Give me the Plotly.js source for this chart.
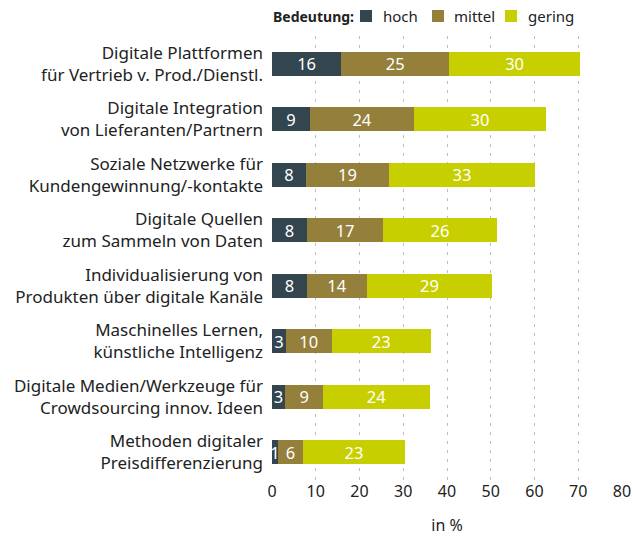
<!DOCTYPE html>
<html><head><meta charset="utf-8">
<script src="https://cdn.plot.ly/plotly-3.0.1.min.js"></script>
<style>body{margin:0;background:#fff}#c{width:633px;height:536px}</style>
</head><body><div id="c"></div>
<script>
const categories = [
  "Digitale Plattformen<br>für Vertrieb v. Prod./Dienstl.",
  "Digitale Integration<br>von Lieferanten/Partnern",
  "Soziale Netzwerke für<br>Kundengewinnung/-kontakte",
  "Digitale Quellen<br>zum Sammeln von Daten",
  "Individualisierung von<br>Produkten über digitale Kanäle",
  "Maschinelles Lernen,<br>künstliche Intelligenz",
  "Digitale Medien/Werkzeuge für<br>Crowdsourcing innov. Ideen",
  "Methoden digitaler<br>Preisdifferenzierung"
];
const hoch   = [15.8, 8.7, 7.8, 8.0, 8.0, 3.2, 3.0, 1.3];
const mittel = [24.7, 23.8, 18.9, 17.4, 13.7, 10.4, 8.7, 5.8];
const gering = [29.9, 30.1, 33.4, 26.0, 28.6, 22.7, 24.4, 23.3];
const seriesNames = ["hoch", "mittel", "gering"];
const colors = ["#33454e", "#947f3b", "#c8cf00"];
const xTicks = [0,10,20,30,40,50,60,70,80];
const legendTitle = "Bedeutung:";

const font = "'Noto Sans', 'Open Sans', sans-serif";
const txt = "#222222";
const traces = [hoch, mittel, gering].map((vals, i) => ({
  type: "bar", orientation: "h", name: seriesNames[i],
  y: categories, x: vals,
  text: vals.map(v => String(Math.round(v))),
  textposition: "inside", insidetextanchor: "middle", textangle: 0,
  textfont: {color: "#ffffff", size: 16.5, family: font},
  marker: {color: colors[i], line: {width: 0}},
  width: 0.43, hoverinfo: "skip", cliponaxis: false, showlegend: false
}));

// custom legend (paper coords)
const W = 350, H = 444, L = 272, T = 36;
const px = p => (p - L) / W;
const py = p => (T + H - p) / H;
const legX = [[360, 382], [432, 453], [505, 527]];
const shapes = legX.map((lx, i) => ({
  type: "rect", xref: "paper", yref: "paper",
  x0: px(lx[0]), x1: px(lx[0] + 12), y0: py(22), y1: py(10),
  fillcolor: colors[i], line: {width: 0}
}));
const annotations = [{
  xref: "paper", yref: "paper", x: px(271), y: py(16), xanchor: "left", yanchor: "middle",
  text: "<b>" + legendTitle + "</b>", showarrow: false, font: {size: 14, color: txt, family: font}
}].concat(legX.map((lx, i) => ({
  xref: "paper", yref: "paper", x: px(lx[1] - 1), y: py(16), xanchor: "left", yanchor: "middle",
  text: seriesNames[i], showarrow: false, font: {size: 15, color: txt, family: font}
})));

const layout = {
  width: 633, height: 536,
  margin: {l: L, r: 633 - L - W, t: T, b: 536 - T - H},
  barmode: "stack",
  paper_bgcolor: "#fff", plot_bgcolor: "#fff",
  font: {family: font, size: 16, color: txt},
  uniformtext: {mode: "show", minsize: 16},
  showlegend: false,
  shapes: shapes, annotations: annotations,
  xaxis: {
    range: [0, 80], tickvals: xTicks, ticktext: xTicks.map(String),
    showgrid: true, gridcolor: "#bdbdbd", griddash: "3px,6px", gridwidth: 1,
    zeroline: false, showline: false, ticks: "",
    tickfont: {size: 16, color: txt},
    title: {text: "in %", font: {size: 16, color: txt}, standoff: 25},
    fixedrange: true, automargin: false
  },
  yaxis: {
    autorange: "reversed", ticks: "", showgrid: false, zeroline: false,
    showline: false, tickfont: {size: 17, color: txt},
    ticklabelstandoff: 8, fixedrange: true, automargin: false
  }
};
Plotly.newPlot("c", traces, layout, {displayModeBar: false, staticPlot: true});
</script></body></html>
